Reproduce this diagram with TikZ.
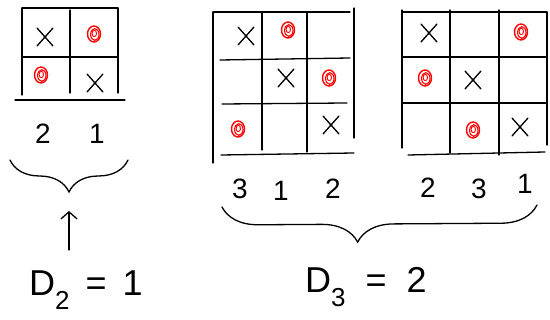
\documentclass[tikz,border=0pt]{standalone}
\usepackage{fontspec}
\setmainfont{Liberation Sans}
\usetikzlibrary{decorations.pathreplacing,arrows.meta}
\tikzset{
  ink/.style={line width=1.3pt, line cap=round, black},
  gridline/.style={ink},
  xmark/.pic={\draw[ink] (-8,-9)--(8,9) (-8,9)--(8,-9);},
  omark/.pic={\draw[red,line width=1.4pt] (0,0) ellipse (6.5 and 8);
              \draw[red,line width=1.1pt] (0.8,0.5) ellipse (4.2 and 5.8);
              \draw[red,line width=0.9pt] (0.3,-0.5) ellipse (2.2 and 3.2);},
  num/.style={font=\fontsize{28}{28}\selectfont, inner sep=0pt},
  lbl/.style={font=\fontsize{36}{36}\selectfont, inner sep=0pt},
  bracedeco/.style={ink, decorate, decoration={brace, mirror, amplitude=#1}},
}
\begin{document}
\begin{tikzpicture}[x=1pt,y=-1pt]
\useasboundingbox (0,0) rectangle (550,320);
% grid 1 (2x2)
\draw[gridline] (22,8)--(118,8);
\draw[gridline] (22,8)--(22,95);
\draw[gridline] (70,10)--(70,93);
\draw[gridline] (118,8)--(118,93);
\draw[gridline] (22,57)--(118,57);
\draw[gridline] (15,100)--(125,100);
\pic at (45,37) {xmark};
\pic at (94,34) {omark};
\pic at (41,75) {omark};
\pic at (95,83) {xmark};
\node[num] (a2) at (43,134) {2};
\node[num] (a1) at (97,134) {1};
% grid 2 (3x3)
\draw[gridline] (213,12)--(350,12);
\draw[gridline] (213,12)--(213,163);
\draw[gridline] (262,13)--(262,150);
\draw[gridline] (307,13)--(307,152);
\draw[gridline] (354,8)--(354,138);
\draw[gridline] (220,60)--(350,58);
\draw[gridline] (222,104)--(347,103);
\draw[gridline] (221,155)--(354,153);
\pic at (246,36) {xmark};
\pic at (288,30) {omark};
\pic at (286,78) {xmark};
\pic at (329,78) {omark};
\pic at (238,129) {omark};
\pic at (331,125) {xmark};
\node[num] (b3) at (240,189) {3};
\node[num] (b1) at (281,191) {1};
\node[num] (b2) at (333,189) {2};
% grid 3 (3x3)
\draw[gridline] (402,12)--(547,12);
\draw[gridline] (402,10)--(402,148);
\draw[gridline] (450,10)--(450,153);
\draw[gridline] (499,10)--(499,155);
\draw[gridline] (547,12)--(547,145);
\draw[gridline] (402,57)--(547,57);
\draw[gridline] (402,103)--(547,103);
\draw[gridline] (408,155)--(545,152);
\pic at (429,33) {xmark};
\pic at (521,32) {omark};
\pic at (425,78) {omark};
\pic at (473,80) {xmark};
\pic at (473,130) {omark};
\pic at (520,127) {xmark};
\node[num] (c2) at (428,188) {2};
\node[num] (c3) at (479,189) {3};
\node[num] (c1) at (525,184) {1};
% braces
\coordinate (s1) at (10,160);
\coordinate (s2) at (128,160);
\draw[bracedeco=32pt] (s1) -- (s2);
\coordinate (tip1) at (69,211);
\coordinate (t1) at (222,207);
\coordinate (t2) at (537,205);
\draw[ink, decorate, decoration={brace, mirror, amplitude=36pt, aspect=0.43}] (t1) -- (t2);
% labels
\node[lbl, anchor=base west] (d2) at (29,296) {D\raisebox{-14pt}{\fontsize{26}{26}\selectfont 2}\;\,=\;\,1};
\draw[ink, -{Straight Barb[length=7pt,width=16pt]}] (69,250) -- (tip1);
\node[lbl, anchor=base west] (d3) at (305,293) {D\raisebox{-14pt}{\fontsize{26}{26}\selectfont 3}\;\;=\;\;2};
\end{tikzpicture}
\end{document}
